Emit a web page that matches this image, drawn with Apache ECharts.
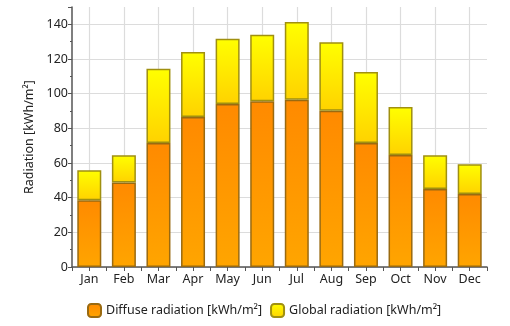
<!DOCTYPE html>
<html><head><meta charset="utf-8">
<script src="https://cdn.jsdelivr.net/npm/echarts@6/dist/echarts.min.js"></script>
<style>html,body{margin:0;padding:0;background:#fff}#c{width:510px;height:326px}</style>
</head><body><div id="c"></div>
<script>
const months = ['Jan','Feb','Mar','Apr','May','Jun','Jul','Aug','Sep','Oct','Nov','Dec'];
const diffuse = [38.5, 48.7, 71.5, 86.5, 94, 95.6, 96.5, 90.2, 71.5, 64.6, 45, 42.1];
const global = [55.8, 64.4, 114.4, 124, 131.7, 134, 141.3, 129.6, 112.5, 92.3, 64.4, 59.3];
const yTicks = [0, 20, 40, 60, 80, 100, 120, 140];
const diffName = 'Diffuse radiation [kWh/m²]';
const globName = 'Global radiation [kWh/m²]';
const globalPart = global.map((g, i) => +(g - diffuse[i]).toFixed(2));
// half-band positions (edges and centres of each month band) for centred gridlines
const halfBands = Array.from({ length: months.length * 2 + 1 }, (_, i) => String(i));

const font = 'Noto Sans';
const chart = echarts.init(document.getElementById('c'));
chart.setOption({
  animation: false,
  grid: { left: 72, right: 23, top: 7, bottom: 59, containLabel: false },
  legend: {
    bottom: 3, left: 82, itemWidth: 13, itemHeight: 13, itemGap: 8,
    icon: 'roundRect',
    textStyle: { fontFamily: font, fontSize: 12.5, color: '#222' },
    data: [diffName, globName]
  },
  xAxis: [{
    type: 'category', data: months,
    axisLine: { lineStyle: { color: '#555', width: 1.5 } },
    axisTick: { show: true, length: 4, lineStyle: { color: '#555' } },
    axisLabel: { fontFamily: font, fontSize: 12.5, color: '#222', margin: 6 },
    splitLine: { show: false }
  }, {
    type: 'category', data: halfBands, position: 'bottom', boundaryGap: false,
    axisLine: { show: false },
    axisTick: { show: true, length: 4, interval: i => i % 2 === 1, lineStyle: { color: '#555' } },
    axisLabel: { show: false },
    splitLine: { show: true, interval: i => i % 2 === 1, lineStyle: { color: '#dcdcdc', width: 1.2 } }
  }],
  yAxis: {
    type: 'value', min: 0, max: 150, interval: 20,
    name: 'Radiation [kWh/m²]', nameLocation: 'middle', nameGap: 28, nameRotate: 90,
    nameTextStyle: { fontFamily: font, fontSize: 12.5, color: '#222' },
    axisLine: { show: true, lineStyle: { color: '#555', width: 1.5 } },
    axisTick: { show: true, length: 4, lineStyle: { color: '#555' } },
    minorTick: { show: true, splitNumber: 2, length: 2, lineStyle: { color: '#555' } },
    axisLabel: { fontFamily: font, fontSize: 12.5, color: '#222', margin: 4,
      formatter: v => yTicks.includes(v) ? String(v) : '' },
    splitLine: { show: true, showMaxLine: false, lineStyle: { color: '#dcdcdc', width: 1.2 } }
  },
  series: [{
    name: diffName, type: 'bar', stack: 'r', data: diffuse, barWidth: 24,
    itemStyle: {
      color: new echarts.graphic.LinearGradient(0, 0, 0, 1, [
        { offset: 0, color: '#ff8a00' }, { offset: 1, color: '#ffa500' }]),
      borderColor: '#9a6a10', borderWidth: 1.5
    }
  }, {
    name: globName, type: 'bar', stack: 'r', data: globalPart, barWidth: 24,
    itemStyle: {
      color: new echarts.graphic.LinearGradient(0, 0, 0, 1, [
        { offset: 0, color: '#ffff00' }, { offset: 1, color: '#ffd200' }]),
      borderColor: '#a09010', borderWidth: 1.5
    }
  }]
});
</script></body></html>
